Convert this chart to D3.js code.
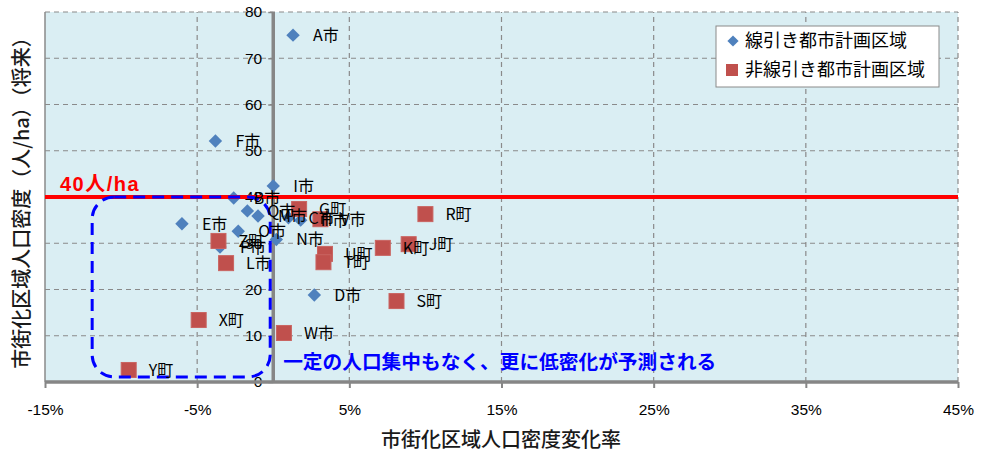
<!DOCTYPE html>
<html>
<head>
<meta charset="utf-8">
<script src="https://cdn.jsdelivr.net/npm/d3@7/dist/d3.min.js"></script>
<style>
  html, body { margin: 0; padding: 0; background: #fff; }
  svg { display: block; }
</style>
</head>
<body>
<svg id="chart" width="982" height="454"></svg>
<script>
// 線引き都市計画区域（◆）
const senbikiNames = ["A市", "F市", "I市", "B市", "Q市", "M市", "C市", "H市", "E市", "O市", "N市", "P市", "D市"];
const senbikiX     = [1.3, -3.8, 0.0, -2.6, -1.7, -1.0, 1.0, 1.8, -6.0, -2.3, 0.2, -3.5, 2.7];
const senbikiY     = [75.0, 52.1, 42.4, 39.8, 37.0, 35.9, 35.5, 35.0, 34.2, 32.6, 30.8, 29.2, 18.8];

// 非線引き都市計画区域（■）
const hiSenbikiNames = ["G町", "V市", "R町", "Z町", "K町", "J町", "U町", "T町", "L市", "S町", "X町", "W市", "Y町"];
const hiSenbikiX     = [1.7, 3.1, 10.0, -3.6, 7.2, 8.9, 3.4, 3.3, -3.1, 8.1, -4.9, 0.7, -9.5];
const hiSenbikiY     = [37.4, 35.2, 36.3, 30.5, 29.0, 29.8, 27.7, 25.9, 25.7, 17.5, 13.4, 10.6, 2.6];

const xTicks = [-15, -5, 5, 15, 25, 35, 45];
const yTicks = [0, 10, 20, 30, 40, 50, 60, 70, 80];
const threshold = 40;
const seriesNames = ["線引き都市計画区域", "非線引き都市計画区域"];

const numFont = "'Liberation Sans Narrow', 'Liberation Sans', Arial, sans-serif";
const jpFont = "'Noto Sans CJK JP', 'Noto Sans', sans-serif";
const labelFont = "'Liberation Sans Narrow', 'Noto Sans CJK JP', sans-serif";

const svg = d3.select("#chart");
const x = d3.scaleLinear().domain([-15, 45]).range([45, 958]);
const y = d3.scaleLinear().domain([0, 80]).range([382, 12]);

const toPoints = (names, xs, ys) => names.map((n, i) => ({ name: n, x: xs[i], y: ys[i] }));
const senbiki = toPoints(senbikiNames, senbikiX, senbikiY);
const hiSenbiki = toPoints(hiSenbikiNames, hiSenbikiX, hiSenbikiY);

// plot background
svg.append("rect")
  .attr("x", x(-15)).attr("y", y(80))
  .attr("width", x(45) - x(-15)).attr("height", y(0) - y(80))
  .attr("fill", "#DAEEF3");

// dashed gridlines
const grid = svg.append("g").attr("stroke", "#8a8a8a").attr("stroke-width", 1.2).attr("stroke-dasharray", "5,4");
grid.selectAll("line.h").data(yTicks.filter(v => v > 0)).join("line")
  .attr("x1", x(-15)).attr("x2", x(45)).attr("y1", d => y(d)).attr("y2", d => y(d));
grid.selectAll("line.v").data(xTicks.filter(v => v > -15)).join("line")
  .attr("y1", y(0)).attr("y2", y(80)).attr("x1", d => x(d)).attr("x2", d => x(d));

// left plot border
svg.append("line")
  .attr("x1", x(-15)).attr("x2", x(-15)).attr("y1", y(0)).attr("y2", y(80))
  .attr("stroke", "#8a8a8a").attr("stroke-width", 1.5);

// y axis through x = 0
const yAxis = svg.append("g")
  .attr("transform", `translate(${x(0)},0)`)
  .call(d3.axisLeft(y).tickValues(yTicks).tickSize(5).tickPadding(6));
yAxis.select(".domain").remove();
yAxis.selectAll(".tick line").attr("stroke", "#868686").attr("stroke-width", 1.5);
yAxis.selectAll(".tick text").attr("font-family", numFont).attr("font-size", 15.5).attr("fill", "#000");
svg.append("line")
  .attr("x1", x(0)).attr("x2", x(0)).attr("y1", y(0)).attr("y2", y(80))
  .attr("stroke", "#868686").attr("stroke-width", 3.5);

// x axis at y = 0
const xAxis = svg.append("g")
  .attr("transform", `translate(0,${y(0)})`)
  .call(d3.axisBottom(x).tickValues(xTicks).tickSize(6).tickPadding(16).tickFormat(d => d + "%"));
xAxis.select(".domain").remove();
xAxis.selectAll(".tick line").attr("stroke", "#868686").attr("stroke-width", 2);
xAxis.selectAll(".tick text").attr("font-family", numFont).attr("font-size", 15.5).attr("fill", "#000");
svg.append("line")
  .attr("x1", x(-15)).attr("x2", x(45)).attr("y1", y(0)).attr("y2", y(0))
  .attr("stroke", "#868686").attr("stroke-width", 3.5);

// markers
const diamond = d3.symbol().type(d3.symbolDiamond2).size(115);
svg.append("g").selectAll("path").data(senbiki).join("path")
  .attr("d", diamond)
  .attr("transform", d => `translate(${x(d.x)},${y(d.y)})`)
  .attr("fill", "#4F81BD");

const sq = 15;
svg.append("g").selectAll("rect").data(hiSenbiki).join("rect")
  .attr("x", d => x(d.x) - sq / 2).attr("y", d => y(d.y) - sq / 2)
  .attr("width", sq).attr("height", sq)
  .attr("fill", "#C0504D").attr("stroke", "#C96461").attr("stroke-width", 1);

// 40人/ha threshold line
svg.append("line")
  .attr("x1", x(-15)).attr("x2", x(45)).attr("y1", y(threshold)).attr("y2", y(threshold))
  .attr("stroke", "#FF0000").attr("stroke-width", 4);

// low-density region outline
const x0 = x(-11.9), x1 = x(-0.2), yTop = y(threshold), yBot = y(1.1);
svg.append("rect")
  .attr("x", x0).attr("y", yTop).attr("width", x1 - x0).attr("height", yBot - yTop)
  .attr("rx", 22).attr("ry", 22)
  .attr("fill", "none").attr("stroke", "#0000FF").attr("stroke-width", 3)
  .attr("stroke-dasharray", "12,7");

// data labels
svg.append("g").selectAll("text").data(senbiki.concat(hiSenbiki)).join("text")
  .attr("x", d => x(d.x) + 20).attr("y", d => y(d.y))
  .attr("dy", "0.36em")
  .attr("font-family", labelFont).attr("font-size", 16).attr("fill", "#000")
  .text(d => d.name);

// threshold label
svg.append("text")
  .attr("x", 60).attr("y", y(threshold) - 6)
  .attr("font-family", "'Liberation Sans', 'Noto Sans CJK JP', sans-serif")
  .attr("font-size", 20).attr("font-weight", "bold").attr("letter-spacing", 1.5).attr("fill", "#FF0000")
  .text("40人/ha");

// annotation
svg.append("text")
  .attr("x", x(0.65)).attr("y", 369)
  .attr("font-family", jpFont).attr("font-size", 19.7).attr("font-weight", "bold").attr("fill", "#0000FF")
  .text("一定の人口集中もなく、更に低密化が予測される");

// legend
const lg = svg.append("g").attr("transform", "translate(716,26)");
lg.append("rect").attr("width", 223).attr("height", 61)
  .attr("fill", "#fff").attr("stroke", "#8a8a8a").attr("stroke-width", 1);
lg.append("path").attr("d", d3.symbol().type(d3.symbolDiamond2).size(80))
  .attr("transform", "translate(17,15)").attr("fill", "#4F81BD");
lg.append("rect").attr("x", 10).attr("y", 38).attr("width", 12).attr("height", 12).attr("fill", "#C0504D");
lg.selectAll("text.lt").data(seriesNames).join("text")
  .attr("x", 29).attr("y", (d, i) => 15 + i * 29).attr("dy", "0.36em")
  .attr("font-family", jpFont).attr("font-size", 18).attr("fill", "#000")
  .text(d => d);

// axis titles
svg.append("text")
  .attr("x", 501).attr("y", 447)
  .attr("text-anchor", "middle")
  .attr("font-family", jpFont).attr("font-size", 20).attr("font-weight", 500).attr("fill", "#1a1a1a")
  .text("市街化区域人口密度変化率");

svg.append("text")
  .attr("transform", "translate(29,198) rotate(-90)")
  .attr("text-anchor", "middle")
  .attr("font-family", jpFont).attr("font-size", 20).attr("font-weight", 500).attr("fill", "#1a1a1a")
  .text("市街化区域人口密度（人/ha）（将来）");
</script>
</body>
</html>
